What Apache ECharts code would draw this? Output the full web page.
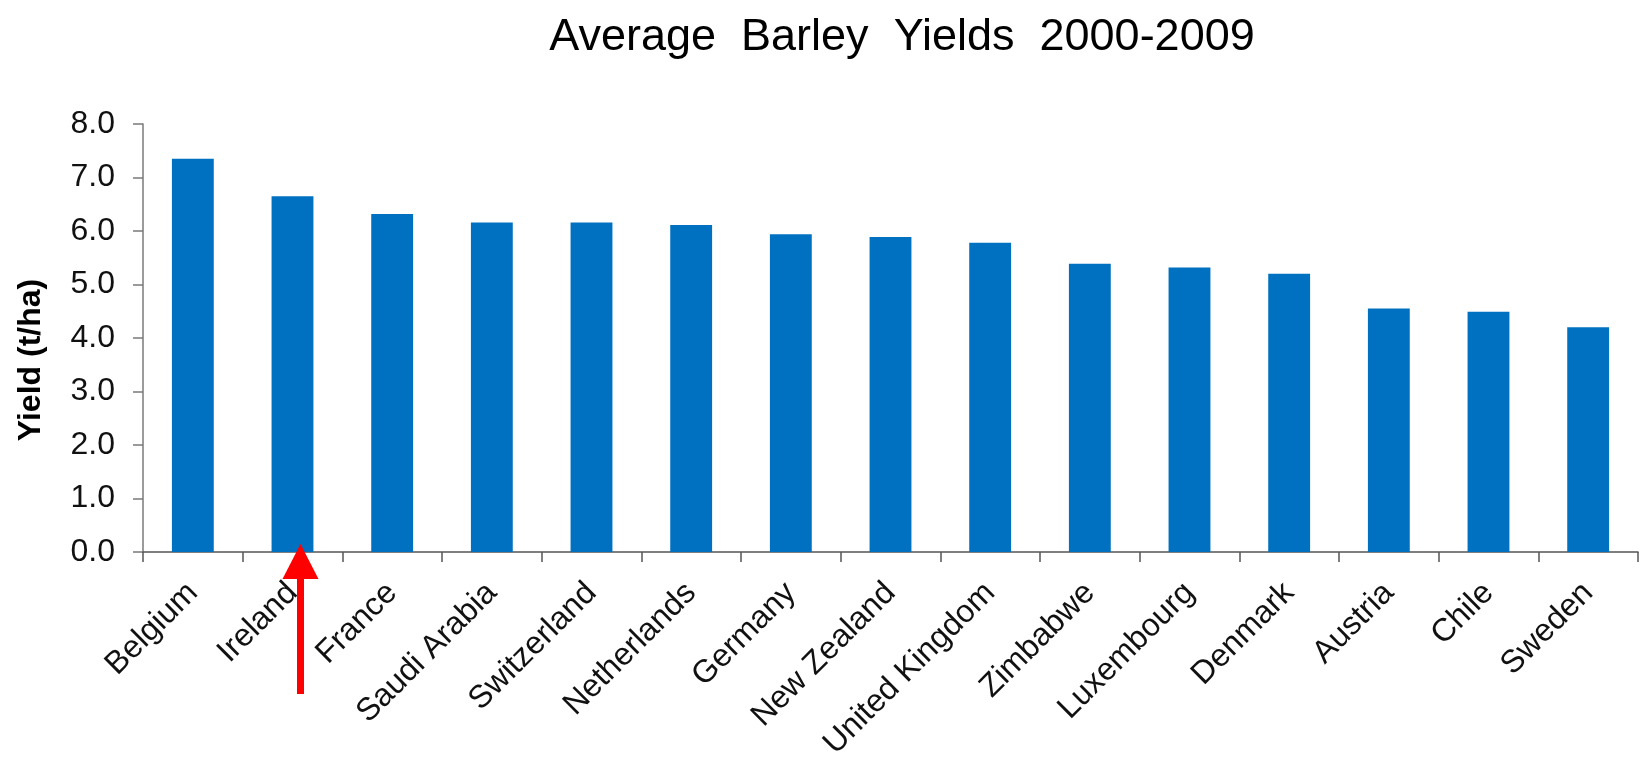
<!DOCTYPE html>
<html>
<head>
<meta charset="utf-8">
<script src="https://cdn.jsdelivr.net/npm/echarts@6/dist/echarts.min.js"></script>
<style>
  html, body { margin: 0; padding: 0; background: #ffffff; }
  #chart { width: 1641px; height: 757px; }
</style>
</head>
<body>
<div id="chart"></div>
<script>
// Average barley yields by country, 2000-2009 (t/ha)
const countries = [
  'Belgium', 'Ireland', 'France', 'Saudi Arabia', 'Switzerland', 'Netherlands',
  'Germany', 'New Zealand', 'United Kingdom', 'Zimbabwe', 'Luxembourg',
  'Denmark', 'Austria', 'Chile', 'Sweden'
];
const yields = [
  7.35, 6.65, 6.32, 6.16, 6.16, 6.11,
  5.94, 5.89, 5.78, 5.39, 5.32,
  5.20, 4.55, 4.49, 4.20
];
const yMin = 0;
const yMax = 8;
const yStep = 1;
const titleText = 'Average  Barley  Yields  2000-2009';
const yAxisTitle = 'Yield (t/ha)';
const highlightedCountry = 'Ireland';

const FONT = '"Liberation Sans", Arial, Helvetica, sans-serif';
const AXIS_COLOR = '#7a7a7a';

const chart = echarts.init(document.getElementById('chart'), null, { renderer: 'canvas' });

chart.setOption({
  animation: false,
  backgroundColor: '#ffffff',
  title: {
    text: titleText,
    left: 897,
    top: 10,
    textAlign: 'center',
    textStyle: { fontFamily: FONT, fontSize: 45, fontWeight: 'normal', color: '#000000' }
  },
  grid: { left: 143, right: 3, top: 124, bottom: 205, containLabel: false, outerBoundsMode: 'none' },
  xAxis: {
    type: 'category',
    data: countries,
    boundaryGap: true,
    axisLine: { show: true, lineStyle: { color: '#555555', width: 1.5 } },
    axisTick: { show: true, alignWithLabel: false, length: 10, lineStyle: { color: '#555555', width: 1.5 } },
    axisLabel: {
      interval: 0,
      rotate: 45,
      margin: 36,
      fontFamily: FONT,
      fontSize: 32,
      color: '#111111'
    },
    splitLine: { show: false }
  },
  yAxis: {
    type: 'value',
    min: yMin,
    max: yMax,
    interval: yStep,
    name: yAxisTitle,
    nameLocation: 'middle',
    nameRotate: 90,
    nameGap: 96,
    nameTextStyle: {
      fontFamily: FONT, fontSize: 32, fontWeight: 'bold', color: '#000000',
      padding: [0, 44, 0, 0]
    },
    axisLine: { show: true, lineStyle: { color: AXIS_COLOR, width: 1.5 } },
    axisTick: { show: true, inside: false, length: 10, lineStyle: { color: AXIS_COLOR, width: 1.5 } },
    axisLabel: {
      margin: 28,
      fontFamily: FONT,
      fontSize: 32,
      color: '#111111',
      formatter: v => v.toFixed(1)
    },
    splitLine: { show: false }
  },
  series: [{
    type: 'bar',
    data: yields,
    barWidth: '42%',
    itemStyle: { color: '#0070C0' }
  }]
});

// Red arrow pointing up at the highlighted country's bar
function drawArrow() {
  const base = chart.convertToPixel({ xAxisIndex: 0, yAxisIndex: 0 }, [highlightedCountry, 0]);
  const x = base[0] + 8;
  const tipY = base[1] - 8;
  const headBaseY = base[1] + 27;
  const headHalf = 18;
  const shaftHalf = 3.5;
  const shaftBottom = base[1] + 142;
  chart.setOption({
    graphic: [
      {
        type: 'polygon',
        z: 100,
        shape: { points: [[x, tipY], [x + headHalf, headBaseY], [x - headHalf, headBaseY]] },
        style: { fill: '#ff0000' }
      },
      {
        type: 'rect',
        z: 100,
        shape: { x: x - shaftHalf, y: headBaseY - 1, width: shaftHalf * 2, height: shaftBottom - headBaseY + 1 },
        style: { fill: '#ff0000' }
      }
    ]
  });
}
drawArrow();
</script>
</body>
</html>
